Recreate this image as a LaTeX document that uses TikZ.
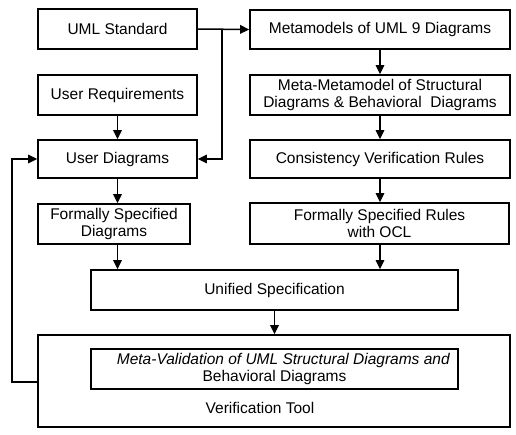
\documentclass[tikz,border=0pt]{standalone}
\usepackage{fontspec}
\setmainfont{Liberation Sans}
\usetikzlibrary{arrows.meta,calc}
\begin{document}
\begin{tikzpicture}[x=1pt,y=-1pt,
  every node/.style={font=\fontsize{15.5}{17.5}\selectfont},
  box/.style={draw,line width=1.6pt,rectangle,inner sep=0pt,align=center},
  conn/.style={line width=1.5pt,-{Triangle[length=9pt,width=8.5pt]}},
  plain/.style={line width=1.5pt}]
\useasboundingbox (0,0) rectangle (516,434);

% left column
\node[box,minimum width=159,minimum height=40] (std) at (117.5,29) {UML Standard};
\node[box,minimum width=159,minimum height=40] (req) at (117.5,95) {User Requirements};
\node[box,minimum width=159,minimum height=38] (ud) at (117.5,159) {User Diagrams};
\node[box,minimum width=152,minimum height=40] (fsd) at (114,224) {Formally Specified\\Diagrams};

% right column
\node[box,minimum width=260,minimum height=39] (mm) at (380,29.5) {Metamodels of UML 9 Diagrams};
\node[box,minimum width=260,minimum height=40] (mmm) at (380,95) {Meta-Metamodel of Structural\\Diagrams \& Behavioral\ \ Diagrams};
\node[box,minimum width=260,minimum height=38] (cvr) at (380,159) {Consistency Verification Rules};
\node[box,minimum width=259,minimum height=41] (fsr) at (379.5,223.5) {Formally Specified Rules\\with OCL};

% bottom
\node[box,minimum width=367,minimum height=40] (us) at (274.5,290) {Unified Specification};
\node[box,minimum width=472,minimum height=92] (vt) at (274,381) {};
\node[box,minimum width=367,minimum height=40] (mv) at (274.5,369)
  {\hspace*{18pt}\textit{Meta-Validation of UML Structural Diagrams and}\\Behavioral Diagrams};
\node (vtl) at (260,408) {Verification Tool};

% connectors
\coordinate (split) at (222,29);
\draw[conn] (std.east) -- (mm.west);
\draw[conn] (split) |- (ud.east);
\draw[conn] (req.south) -- (ud.north);
\draw[conn] (ud.south) -- (ud.south |- fsd.north);
\draw[conn] (ud.south |- fsd.south) -- (ud.south |- us.north);
\draw[conn] (mm.south) -- (mmm.north);
\draw[conn] (mmm.south) -- (cvr.north);
\draw[conn] (cvr.south) -- (mm.south |- fsr.north);
\draw[conn] (mm.south |- fsr.south) -- (mm.south |- us.north);
\draw[conn] (us.south) -- (us.south |- vt.north);
\coordinate (fb) at (12,382);
\draw[conn] (vt.west |- fb) -- (fb) |- (ud.west);
\end{tikzpicture}
\end{document}
